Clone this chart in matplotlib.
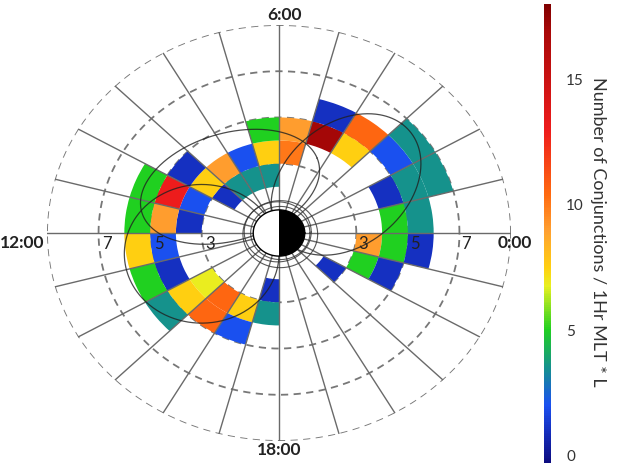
import matplotlib.pyplot as plt
import matplotlib.colors as mcolors
import matplotlib.cm as cm
import numpy as np

nan = np.nan

# MLT hour bins (0..23) and L-shell bin edges
mlt_hours = np.arange(24)
l_edges = [2, 3, 4, 5, 6, 7]

# number of conjunctions per (1 hr MLT x 1 L) bin, one list per L band
band_2_3 = [nan, nan, nan, nan, nan, nan, 3.5, 3.5, 3.5, 1, nan, nan,
            nan, nan, nan, nan, nan, 1, nan, nan, nan, 1, nan, nan]
band_3_4 = [nan, nan, nan, nan, nan, 10, 7.5, 2, 9, 7.5, 2, 1,
            nan, nan, 6.8, 10.5, 7.5, 3.5, nan, nan, nan, nan, 5, 9]
band_4_5 = [5, 1, nan, 7.5, 17, 9, 5, nan, nan, 1, 13, 9,
            2, 1, 7.5, 10.5, 2, nan, nan, nan, nan, nan, 1, 5]
band_5_6 = [3.5, 3.5, 2, 10.5, 1, nan, nan, nan, nan, nan, 5, 5,
            7.5, 5, 3.5, nan, nan, nan, nan, nan, nan, nan, nan, 1]
band_6_7 = [nan, 3.5, 3.5, nan, nan, nan, nan, nan, nan, nan, nan, nan,
            nan, nan, nan, nan, nan, nan, nan, nan, nan, nan, nan, nan]
bands = [band_2_3, band_3_4, band_4_5, band_5_6, band_6_7]

# example orbit traces: centre x, centre y (L, 0:00 to the right), semi-axes, tilt (deg)
orbits = [(-3.0, -0.9, 3.0, 3.0, 0), (2.6, 2.1, 3.4, 2.5, 50), (-1.9, 2.0, 3.6, 2.3, 20)]
# small rings close to Earth: centre x, centre y, radius
near_rings = [(0.05, 0.0, 1.15), (-0.05, 0.05, 1.3), (0.05, -0.05, 1.45)]

grid_rings = [3, 5, 7, 9]
ring_labels = ['3', '5', '7']
mlt_labels = {0: '0:00', 6: '6:00', 12: '12:00', 18: '18:00'}
cbar_ticks = [0, 5, 10, 15]
cbar_label = 'Number of Conjunctions / 1Hr MLT * L'

plt.rcParams['font.family'] = ['Lato', 'DejaVu Sans']

cmap = mcolors.LinearSegmentedColormap.from_list('conj', [
    (0.00, '#0c0c80'), (0.07, '#1530c0'), (0.125, '#1a50f0'),
    (0.205, '#159090'), (0.29, '#20d020'), (0.385, '#e8f020'),
    (0.425, '#ffd010'), (0.505, '#ffa030'), (0.585, '#ff6a10'),
    (0.725, '#ee1c1c'), (0.944, '#a80808'), (1.00, '#800000')])
norm = mcolors.Normalize(-0.3, 18)

fig = plt.figure(figsize=(6.22, 4.67), dpi=100)
ax = fig.add_axes([47/622, 26/467, 464/622, 416/467], projection='polar')
ax.set_aspect('auto')
ax.set_ylim(0, 9)
ax.grid(False)
ax.set_xticks([])
ax.set_yticks([])
ax.spines['polar'].set_visible(False)

th = np.linspace(0, 2*np.pi, 400)
for r in grid_rings:
    ax.plot(th, np.full_like(th, r), color='#777777', lw=1.3, ls=(0, (4, 3)), zorder=1)

# heat map bins
width = np.radians(15)
for i, band in enumerate(bands):
    vals = np.array(band, dtype=float)
    ok = ~np.isnan(vals)
    ax.bar(np.radians(mlt_hours[ok]*15 + 7.5), l_edges[i+1] - l_edges[i], width=width,
           bottom=l_edges[i], color=cmap(norm(vals[ok])), edgecolor='none', zorder=2)

# radial hour lines
for h in mlt_hours:
    t = np.radians(h*15)
    ax.plot([t, t], [1, 9], color='#6a6a6a', lw=1.0, zorder=3)


def to_polar(x, y):
    return np.arctan2(y, x), np.hypot(x, y)


# orbit traces
for cx, cy, sa, sb, tilt in orbits:
    c, s = np.cos(np.radians(tilt)), np.sin(np.radians(tilt))
    x = cx + sa*np.cos(th)*c - sb*np.sin(th)*s
    y = cy + sa*np.cos(th)*s + sb*np.sin(th)*c
    t, r = to_polar(x, y)
    ax.plot(np.unwrap(t), r, color='#202020', lw=0.9, alpha=0.8, zorder=4)
for cx, cy, rr in near_rings:
    t, r = to_polar(cx + rr*np.cos(th), cy + rr*np.sin(th))
    ax.plot(np.unwrap(t), r, color='#303030', lw=0.8, alpha=0.8, zorder=4)

# Earth: day side white, night side black
ax.bar(np.pi, 1, width=np.pi, bottom=0, color='white', zorder=5)
ax.bar(0, 1, width=np.pi, bottom=0, color='black', zorder=5)
ax.plot(th, np.ones_like(th), color='black', lw=1.0, zorder=6)

for lab in ring_labels:
    r = float(lab)
    ax.annotate(lab, xy=(np.pi, r), xytext=(4, -3), textcoords='offset pixels',
                ha='left', va='top', fontsize=12, color='#222222', zorder=7)
    ax.annotate(lab, xy=(0, r), xytext=(2, -3), textcoords='offset pixels',
                ha='left', va='top', fontsize=12, color='#222222', zorder=7)

lab_kw = dict(textcoords='offset pixels', fontsize=12.5, fontweight='bold',
              color='#222222', annotation_clip=False)
ax.annotate(mlt_labels[6], xy=(np.pi/2, 9), xytext=(6, 2), ha='center', va='bottom', **lab_kw)
ax.annotate(mlt_labels[18], xy=(1.5*np.pi, 9), xytext=(0, -1), ha='center', va='top', **lab_kw)
ax.annotate(mlt_labels[12], xy=(np.pi, 9), xytext=(-3, -2), ha='right', va='top', **lab_kw)
ax.annotate(mlt_labels[0], xy=(0, 9), xytext=(4, -2), ha='center', va='top', **lab_kw)

cax = fig.add_axes([544/622, 4/467, 7/622, 459/467])
cb = fig.colorbar(cm.ScalarMappable(norm=norm, cmap=cmap), cax=cax)
cb.outline.set_visible(False)
cb.set_ticks(cbar_ticks)
cb.ax.tick_params(length=0, pad=11, labelsize=11, labelcolor='#333333')
fig.text(598/622, 1 - 232/467, cbar_label, rotation=270, ha='center', va='center',
         fontsize=13, color='#333333')

fig.savefig('out.png', dpi=100)
